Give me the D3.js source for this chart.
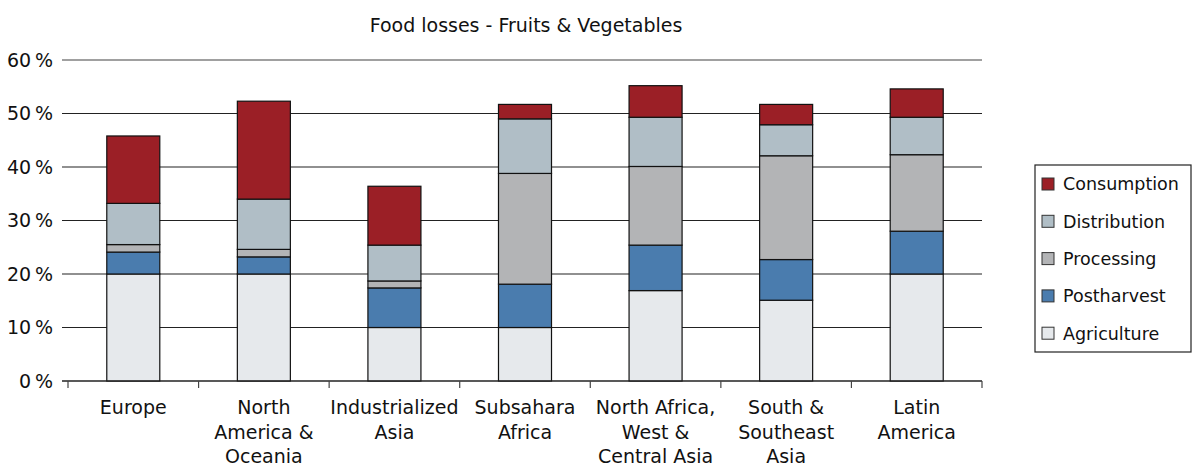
<!DOCTYPE html>
<html>
<head>
<meta charset="utf-8">
<script src="https://cdn.jsdelivr.net/npm/d3@7"></script>
<style>
  body { margin: 0; background: #fff; }
  svg { display: block; font-family: "DejaVu Sans", "Noto Sans", sans-serif; }
</style>
</head>
<body>
<svg id="chart"></svg>
<script>
// Chart data (shares of food lost, by stage)
const regions = ["Europe", "North America & Oceania", "Industrialized Asia", "Subsahara Africa",
                 "North Africa, West & Central Asia", "South & Southeast Asia", "Latin America"];
const regionLines = [["Europe"], ["North", "America &", "Oceania"], ["Industrialized", "Asia"],
                     ["Subsahara", "Africa"], ["North Africa,", "West &", "Central Asia"],
                     ["South &", "Southeast", "Asia"], ["Latin", "America"]];
const stages = ["Agriculture", "Postharvest", "Processing", "Distribution", "Consumption"];
const agriculture  = [20, 20, 10, 10, 16.9, 15.1, 20];
const postharvest  = [4.1, 3.2, 7.4, 8.1, 8.5, 7.6, 8.0];
const processing   = [1.4, 1.4, 1.3, 20.7, 14.7, 19.4, 14.3];
const distribution = [7.7, 9.4, 6.7, 10.2, 9.2, 5.8, 7.0];
const consumption  = [12.6, 18.3, 11.0, 2.7, 5.9, 3.8, 5.3];
const yTicks = [0, 10, 20, 30, 40, 50, 60];
const stageColors = ["#e6e9ec", "#4a7cae", "#b3b4b6", "#b0bec6", "#9b1f26"];

const width = 1195, height = 468;
const margin = { left: 68, right: 213, top: 60, bottom: 87 };

const svg = d3.select("#chart").attr("width", width).attr("height", height);

const table = regions.map((r, i) => ({
    region: r,
    Agriculture: agriculture[i],
    Postharvest: postharvest[i],
    Processing: processing[i],
    Distribution: distribution[i],
    Consumption: consumption[i]
}));
const series = d3.stack().keys(stages)(table);

const x = d3.scaleBand()
    .domain(regions)
    .range([margin.left, width - margin.right])
    .paddingInner(0.594)
    .paddingOuter(0.297);

const y = d3.scaleLinear()
    .domain([0, 60])
    .range([height - margin.bottom, margin.top]);

const color = d3.scaleOrdinal().domain(stages).range(stageColors);

// Title
svg.append("text")
    .attr("x", 526)
    .attr("y", 32)
    .attr("text-anchor", "middle")
    .attr("font-size", "19px")
    .attr("fill", "#111")
    .text("Food losses - Fruits & Vegetables");

// Gridlines
svg.append("g")
    .selectAll("line")
    .data(yTicks)
    .join("line")
    .attr("x1", margin.left - 6)
    .attr("x2", width - margin.right)
    .attr("y1", d => y(d))
    .attr("y2", d => y(d))
    .attr("stroke", d => d === 60 ? "#808080" : "#222")
    .attr("stroke-width", d => d === 60 ? 1.6 : 1.2);

// Y labels
svg.append("g")
    .selectAll("text")
    .data(yTicks)
    .join("text")
    .attr("x", 53)
    .attr("y", d => y(d))
    .attr("dy", "0.36em")
    .attr("text-anchor", "end")
    .attr("font-size", "19px")
    .attr("fill", "#111")
    .text(d => d + "\u2009%");

// Bars
svg.append("g")
    .selectAll("g")
    .data(series)
    .join("g")
    .attr("fill", d => color(d.key))
    .selectAll("rect")
    .data(d => d)
    .join("rect")
    .attr("x", d => x(d.data.region))
    .attr("width", x.bandwidth())
    .attr("y", d => y(d[1]))
    .attr("height", d => y(d[0]) - y(d[1]))
    .attr("stroke", "#111")
    .attr("stroke-width", 1.2);

// X axis baseline and category ticks
const axisY = y(0);
svg.append("line")
    .attr("x1", margin.left - 6)
    .attr("x2", width - margin.right)
    .attr("y1", axisY)
    .attr("y2", axisY)
    .attr("stroke", "#222")
    .attr("stroke-width", 1.2);

const bounds = regions.map(r => x(r) + x.bandwidth() / 2 - x.step() / 2);
bounds.push(width - margin.right);
svg.append("g")
    .selectAll("line")
    .data(bounds)
    .join("line")
    .attr("x1", d => d)
    .attr("x2", d => d)
    .attr("y1", axisY)
    .attr("y2", axisY + 7)
    .attr("stroke", "#444")
    .attr("stroke-width", 1.2);

// X labels
svg.append("g")
    .selectAll("text")
    .data(regions)
    .join("text")
    .attr("text-anchor", "middle")
    .attr("font-size", "19px")
    .attr("fill", "#111")
    .each(function(d, i) {
        const t = d3.select(this);
        regionLines[i].forEach((line, j) => {
            t.append("tspan")
                .attr("x", x(d) + x.bandwidth() / 2)
                .attr("y", 414 + j * 24.6)
                .text(line);
        });
    });

// Legend
const legend = svg.append("g");
legend.append("rect")
    .attr("x", 1035)
    .attr("y", 165)
    .attr("width", 156)
    .attr("height", 187)
    .attr("fill", "#fff")
    .attr("stroke", "#222")
    .attr("stroke-width", 1.2);

const legendItems = legend.selectAll("g")
    .data(stages.slice().reverse())
    .join("g")
    .attr("transform", (d, i) => `translate(1042, ${184 + i * 37.3})`);

legendItems.append("rect")
    .attr("x", 0)
    .attr("y", -6)
    .attr("width", 12)
    .attr("height", 12)
    .attr("fill", d => color(d))
    .attr("stroke", "#333")
    .attr("stroke-width", 1);

legendItems.append("text")
    .attr("x", 21)
    .attr("dy", "0.36em")
    .attr("font-size", "17.5px")
    .attr("fill", "#111")
    .text(d => d);
</script>
</body>
</html>
